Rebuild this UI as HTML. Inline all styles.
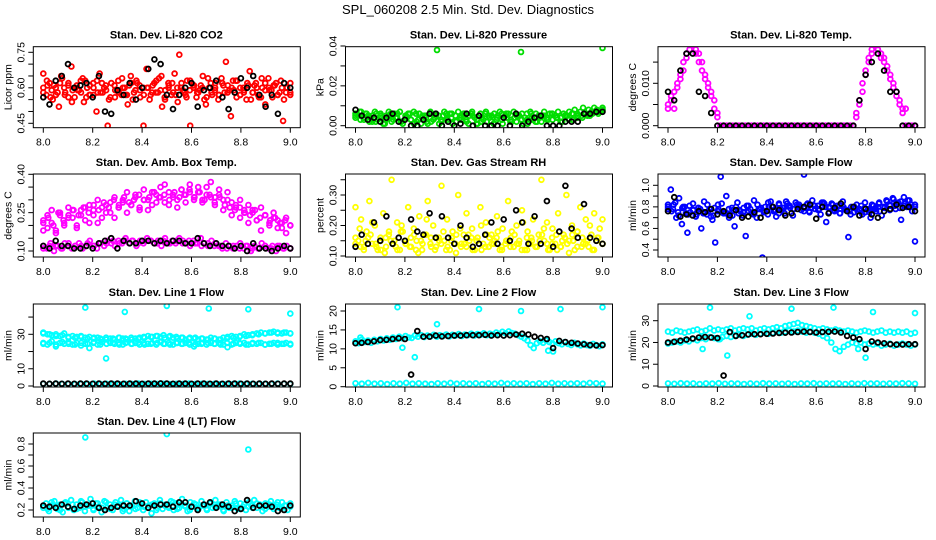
<!DOCTYPE html>
<html><head><meta charset="utf-8"><title>SPL_060208 Diagnostics</title>
<style>
html,body{margin:0;padding:0;background:#fff;}
svg{display:block;font-family:"Liberation Sans",Arial,sans-serif;}
</style></head>
<body>
<svg id="chart" width="936" height="540" viewBox="0 0 936 540" xmlns="http://www.w3.org/2000/svg">
<text x="468" y="14" text-anchor="middle" font-size="13">SPL_060208  2.5 Min. Std. Dev. Diagnostics</text>
</svg>
<script>
const xTicks = [8.0, 8.2, 8.4, 8.6, 8.8, 9.0];
const xTickLabels = ["8.0", "8.2", "8.4", "8.6", "8.8", "9.0"];

const co2Red = [0.66,0.57,0.62,0.55,0.60,0.52,0.64,0.58,0.61,0.69,0.56,0.59,0.63,0.54,0.60,0.57,0.62,0.50,0.66,0.58,0.61,0.55,0.79,0.59,0.63,0.57,0.60,0.53,0.65,0.58,0.62,0.56,0.60,0.68,0.55,0.61,0.58,0.64,0.52,0.59,0.62,0.57,0.66,0.54,0.60,0.58,0.63,0.44,0.61,0.56,0.59,0.65,0.53,0.60,0.57,0.62,0.55,0.64,0.58,0.61,0.48,0.59,0.63,0.57,0.60,0.55,0.67,0.58,0.62,0.56,0.60,0.53,0.64,0.59,0.61,0.57,0.63,0.55,0.60,0.58];
const co2Red2 = [0.60,0.63,0.56,0.61,0.58,0.65,0.57,0.62,0.54,0.60,0.59,0.64,0.56,0.61,0.57,0.63,0.58,0.60,0.44,0.62,0.56,0.59,0.64,0.57,0.61,0.55,0.63,0.59,0.44,0.60,0.57,0.62,0.58,0.65,0.55,0.60,0.62,0.57,0.74,0.59,0.56,0.63,0.60,0.58,0.61,0.55,0.64,0.58,0.60,0.57,0.62,0.71,0.59,0.63,0.56,0.60,0.58,0.62,0.55,0.61,0.57,0.64,0.59,0.60,0.56,0.62,0.58,0.46,0.60,0.57];
const co2Red3 = [0.58,0.61,0.59,0.57,0.62,0.60,0.56,0.59,0.61,0.58,0.63,0.57,0.60,0.58,0.62,0.59,0.56,0.61,0.58,0.60,0.57,0.62,0.59,0.61,0.57,0.60,0.58,0.63,0.59,0.56,0.61,0.58,0.60,0.62,0.57,0.59,0.61,0.58,0.60,0.56,0.62,0.59,0.57,0.61,0.58,0.60,0.63,0.57,0.59,0.61,0.58,0.60,0.56,0.62,0.59,0.61,0.57,0.60,0.58,0.62];
const co2Black = [0.56,0.53,0.63,0.65,0.70,0.60,0.61,0.62,0.56,0.65,0.50,0.49,0.59,0.57,0.62,0.55,0.60,0.68,0.72,0.70,0.57,0.51,0.57,0.60,0.62,0.52,0.59,0.60,0.63,0.56,0.51,0.58,0.64,0.60,0.65,0.57,0.52,0.57,0.49,0.62,0.60];

const pressGreen = [0.006,0.005,0.007,0.004,0.006,0.002,0.005,0.007,0.003,0.006,0.001,0.005,0.007,0.002,0.006,0.004,0.007,0.001,0.005,0.006,0.003,0.007,0.002,0.006,0.004,0.005,0.001,0.007,0.003,0.006,0.005,0.002,0.007,0.004,0.006,0.001,0.005,0.007,0.003,0.006,0.002,0.005,0.007,0.004,0.001,0.006,0.003,0.007,0.005,0.002,0.006,0.004,0.007,0.001,0.005,0.006,0.003,0.007,0.002,0.005,0.006,0.004,0.001,0.007,0.003,0.006,0.005,0.002,0.007,0.004,0.006,0.003,0.005,0.007,0.004,0.006,0.005,0.007,0.006,0.008,0.005,0.007,0.009,0.006,0.008,0.007,0.009,0.008,0.007,0.009];
const pressGreen2 = [0.004,0.007,0.003,0.005,0.002,0.006,0.004,0.001,0.005,0.003,0.006,0.002,0.004,0.006,0.001,0.003,0.005,0.002,0.006,0.004,0.001,0.005,0.003,0.006,0.002,0.004,0.006,0.001,0.005,0.003,0.002,0.006,0.004,0.001,0.005,0.003,0.006,0.002,0.004,0.005,0.001,0.003,0.006,0.002,0.004,0.005,0.003,0.006,0.004,0.002,0.005,0.003,0.006,0.004,0.005,0.006,0.005,0.007,0.006,0.008];
const pressGreen3 = [0.005,0.003,0.006,0.004,0.002,0.005,0.003,0.006,0.004,0.002,0.005,0.003,0.006,0.001,0.004,0.002,0.005,0.003,0.006,0.004,0.002,0.005,0.003,0.006,0.001,0.004,0.002,0.005,0.003,0.006,0.004,0.002,0.005,0.003,0.006,0.004,0.002,0.005,0.003,0.006,0.004,0.002,0.005,0.003,0.006,0.004,0.005,0.006,0.007,0.008];
const pressOutX = [8.33, 8.67, 9.0];
const pressOutY = [0.038, 0.037, 0.039];
const pressBlack = [0.008,0.005,0.003,0.004,0.002,0.004,0.006,0.002,0.003,0.0,0.0,0.003,0.006,0.006,0.0,0.002,0.0,0.001,0.006,0.0,0.005,0.0,0.0,0.0,0.004,0.0,0.006,0.0,0.002,0.004,0.005,0.0,0.0,0.0,0.002,0.002,0.002,0.006,0.006,0.007,0.007];

const tempMag = [0.005,0.007,0.004,0.009,0.011,0.013,0.016,0.018,0.020,0.018,0.017,0.015,0.012,0.010,0.008,0.006,0.003,
0,0,0,0,0,0,0,0,0,0,0,0,0,0,0,0,0,0,0,0,0,0,0,0,0,0,0,0,0,0,0,0,0,0,0,0,0,0,0,0,0,0,0,0,
0.003,0.006,0.010,0.013,0.016,0.018,0.020,0.019,0.017,0.016,0.014,0.012,0.010,0.008,0.006,0.004,0,0,0,0];
const tempMag2 = [0.004,0.006,0.008,0.010,0.012,0.015,0.017,0.019,0.019,0.017,0.015,0.013,0.011,0.009,0.007,0.004,0.002,
0,0,0,0,0,0,0,0,0,0,0,0,0,0,0,0,0,0,0,0,0,0,0,0,0,0,0,0,0,0,0,0,0,0,0,0,0,0,0,0,0,0,0,0,
0.002,0.005,0.008,0.012,0.015,0.017,0.019,0.018,0.016,0.015,0.013,0.011,0.009,0.007,0.005,0.003,0.004,0,0,0];
const tempBlack = [0.008,0.006,0.013,0.017,0.017,0.008,0.007,0.003,0,0,0,0,0,0,0,0,0,0,0,0,0,0,0,0,0,0,0,0,0,0,0,0.006,0.012,0.015,0.017,0.013,0.008,0.008,0,0,0];

const ambUpper = [0.22,0.19,0.26,0.18,0.24,0.21,0.27,0.23,0.20,0.26,0.22,0.28,0.24,0.21,0.27,0.25,0.29,0.23,0.27,0.30,0.25,0.28,0.32,0.27,0.30,0.26,0.33,0.29,0.31,0.36,0.28,0.32,0.30,0.34,0.29,0.33,0.31,0.35,0.30,0.32,0.37,0.31,0.34,0.30,0.33,0.29,0.27,0.30,0.25,0.28,0.26,0.22,0.27,0.24,0.21,0.25,0.22,0.19,0.23,0.20];
const ambUpper2 = [0.18,0.24,0.21,0.17,0.25,0.20,0.23,0.26,0.19,0.24,0.27,0.21,0.26,0.30,0.23,0.28,0.25,0.31,0.27,0.29,0.33,0.28,0.31,0.26,0.34,0.30,0.28,0.32,0.35,0.29,0.33,0.31,0.27,0.34,0.32,0.36,0.30,0.33,0.29,0.35,0.31,0.28,0.32,0.26,0.30,0.24,0.28,0.23,0.26,0.21,0.25,0.22,0.18,0.24,0.20,0.23,0.19,0.21,0.17,0.20];
const ambUpper3 = [0.21,0.23,0.20,0.25,0.22,0.24,0.26,0.24,0.27,0.25,0.28,0.26,0.29,0.27,0.30,0.28,0.31,0.29,0.30,0.32,0.30,0.31,0.33,0.31,0.32,0.30,0.33,0.31,0.32,0.34,0.31,0.33,0.30,0.32,0.29,0.31,0.28,0.27,0.26,0.27,0.25,0.24,0.26,0.23,0.24,0.22,0.23,0.21,0.22,0.20];
const ambLower = [0.12,0.11,0.13,0.10,0.12,0.11,0.13,0.12,0.11,0.12,0.13,0.11,0.12,0.14,0.12,0.11,0.13,0.12,0.14,0.13,0.12,0.14,0.13,0.15,0.13,0.14,0.12,0.14,0.13,0.15,0.14,0.13,0.14,0.12,0.15,0.13,0.14,0.13,0.15,0.14,0.13,0.12,0.14,0.13,0.15,0.13,0.12,0.14,0.13,0.12,0.11,0.13,0.12,0.11,0.12,0.13,0.11,0.12,0.10,0.12,0.11,0.13,0.12,0.11,0.12,0.10,0.12,0.11,0.12,0.11];
const ambLower2 = [0.11,0.12,0.12,0.11,0.13,0.12,0.12,0.13,0.12,0.13,0.13,0.14,0.13,0.14,0.14,0.13,0.14,0.14,0.13,0.14,0.13,0.14,0.13,0.14,0.13,0.12,0.13,0.12,0.12,0.11,0.12,0.11,0.12,0.11,0.11,0.12,0.11,0.12,0.11,0.11];
const ambBlack = [0.12,0.11,0.14,0.12,0.12,0.11,0.11,0.12,0.11,0.13,0.14,0.15,0.11,0.14,0.13,0.13,0.14,0.14,0.13,0.14,0.13,0.14,0.14,0.13,0.13,0.15,0.13,0.12,0.13,0.12,0.12,0.11,0.12,0.10,0.13,0.11,0.11,0.10,0.11,0.12,0.11];

const rhYellow = [0.26,0.15,0.22,0.13,0.18,0.28,0.14,0.20,0.12,0.16,0.24,0.13,0.17,0.35,0.15,0.21,0.12,0.18,0.14,0.26,0.13,0.19,0.15,0.23,0.12,0.17,0.28,0.14,0.20,0.13,0.16,0.33,0.15,0.22,0.12,0.18,0.14,0.30,0.13,0.17,0.24,0.15,0.19,0.12,0.16,0.26,0.14,0.21,0.13,0.17,0.15,0.23,0.12,0.19,0.14,0.28,0.16,0.13,0.20,0.15,0.25,0.12,0.18,0.14,0.22,0.13,0.17,0.35,0.15,0.21,0.12,0.19,0.14,0.24,0.13,0.17,0.30,0.15,0.20,0.12,0.18,0.26,0.14,0.22,0.13,0.17,0.24,0.15,0.19,0.22];
const rhYellow2 = [0.14,0.19,0.12,0.16,0.21,0.13,0.15,0.11,0.18,0.14,0.12,0.20,0.15,0.13,0.17,0.11,0.14,0.22,0.16,0.12,0.15,0.18,0.13,0.16,0.11,0.19,0.14,0.17,0.12,0.15,0.20,0.13,0.16,0.14,0.18,0.12,0.15,0.13,0.17,0.14,0.21,0.12,0.16,0.13,0.15,0.19,0.12,0.14,0.17,0.13,0.16,0.11,0.15,0.18,0.13,0.14,0.20,0.12,0.16,0.14];
const rhYellow3 = [0.16,0.13,0.15,0.17,0.14,0.12,0.16,0.15,0.13,0.18,0.14,0.16,0.12,0.15,0.17,0.13,0.16,0.14,0.12,0.15,0.17,0.14,0.13,0.16,0.15,0.12,0.17,0.14,0.16,0.13,0.15,0.18,0.14,0.12,0.16,0.15,0.13,0.17,0.14,0.16,0.12,0.15,0.14,0.17,0.13,0.16,0.15,0.12,0.16,0.14];
const rhBlack = [0.13,0.17,0.14,0.21,0.15,0.23,0.14,0.16,0.15,0.22,0.18,0.17,0.24,0.16,0.23,0.16,0.14,0.20,0.16,0.13,0.14,0.17,0.21,0.14,0.22,0.15,0.25,0.21,0.14,0.23,0.14,0.28,0.13,0.18,0.33,0.19,0.16,0.27,0.16,0.15,0.14];

const sampleBlue = [0.78,0.96,0.82,0.70,0.88,0.64,0.80,0.56,0.75,0.83,0.71,0.79,0.60,0.85,0.73,0.78,0.68,0.47,0.82,1.08,0.74,0.90,0.70,0.79,0.62,0.84,0.76,0.72,0.53,0.81,0.74,0.86,0.70,0.78,0.33,0.80,0.73,0.85,0.76,0.71,0.82,0.77,0.74,0.83,0.79,0.72,0.84,0.80,0.77,1.10,0.82,0.75,0.86,0.78,0.81,0.73,0.84,0.66,0.79,0.83,0.76,0.81,0.74,0.85,0.77,0.52,0.80,0.75,0.82,0.78,0.73,0.84,0.77,0.70,0.81,0.76,0.83,0.72,0.79,0.85,0.81,0.88,0.78,0.84,0.68,0.89,0.80,0.86,0.76,0.48];
const sampleBlue2 = [0.80,0.76,0.84,0.72,0.79,0.74,0.81,0.77,0.73,0.78,0.75,0.82,0.71,0.79,0.76,0.83,0.74,0.78,0.72,0.80,0.77,0.75,0.81,0.78,0.74,0.82,0.79,0.76,0.84,0.80,0.77,0.83,0.79,0.85,0.81,0.78,0.82,0.80,0.76,0.83,0.79,0.81,0.77,0.84,0.80,0.75,0.82,0.78,0.74,0.80,0.77,0.73,0.79,0.76,0.81,0.75,0.78,0.82,0.79,0.84,0.80,0.86,0.82,0.87,0.83,0.85,0.81,0.86,0.82,0.80];
const sampleBlue3 = [0.82,0.78,0.75,0.80,0.73,0.77,0.79,0.74,0.76,0.72,0.78,0.75,0.73,0.77,0.74,0.79,0.76,0.73,0.78,0.75,0.80,0.77,0.74,0.79,0.81,0.78,0.82,0.79,0.76,0.81,0.78,0.83,0.80,0.77,0.81,0.78,0.76,0.80,0.77,0.79,0.75,0.78,0.76,0.80,0.77,0.81,0.79,0.83,0.80,0.82];
const sampleBlack = [0.76,0.89,0.71,0.73,0.72,0.76,0.75,0.78,0.73,0.76,0.72,0.77,0.70,0.71,0.75,0.70,0.76,0.80,0.77,0.72,0.74,0.78,0.80,0.82,0.69,0.80,0.74,0.79,0.83,0.76,0.80,0.72,0.78,0.73,0.70,0.76,0.78,0.82,0.79,0.80,0.76];

const line1Upper = [31,30,29.5,30,29,30.5,28,29,28.5,29,28,28.5,27.5,28,27,28,27.5,27,28,27.5,27,28,27.5,28,28.5,29,28.5,29,28.5,28,28.5,28,27.5,28,27,28,27.5,27,27.5,27,28,27.5,27,28,28.5,29,28.5,29,30,29.5,30,30.5,31,30.5,31,31.5,31,30.5,31,30.5];
const line1Upper2 = [30.5,30,29,29.5,28.5,28,28.5,27.5,28,27.5,27,27.5,28,27.5,27,27.5,28,28.5,29,29.5,29,28.5,28,27.5,28,27.5,27,27.5,27,27.5,28,28.5,29,29.5,30,30.5,31,30.5,31,30.5];
const line1Lower = [25,24,26,23,25,24.5,25.5,24,25,23.5,24.5,22,25,24,25.5,16,25,24.5,25,24,25.5,24.5,25,24,25,24.5,25,24,25.5,24.5,25,24,25,24.5,25,24,23,24.5,25,24,25,24.5,25,24,22.5,24,25,24.5,25,24,25,24.5,25,24,24.5,25,24,24.5,25,24.5];
const line1Lower2 = [24.5,25,24,25.5,24.5,24,25,24.5,25.5,24,24.5,25,24,25,24.5,25,24,24.5,25,24.5,24,25,24.5,25,24,24.5,25,24.5,24,25,24.5,25,24,24.5,25,24,24.5,25,24.5,24];
const line1Low = [1.3,1.2,1.4,1.2,1.3,1.1,1.3,1.2,1.4,1.2,1.3,1.2,1.1,1.3,1.2,1.4,1.2,1.3,1.2,1.3,1.1,1.3,1.2,1.4,1.2,1.3,1.2,1.3,1.1,1.3,1.2,1.4,1.2,1.3,1.2,1.3,1.2,1.4,1.3,1.2];
const line1OutX = [8.17, 8.33, 8.5, 8.67, 8.83, 9.0];
const line1OutY = [45.5, 43, 46.5, 45, 44.5, 42];
const line1Black = [1.4,1.3,1.4,1.3,1.4,1.3,1.4,1.4,1.3,1.4,1.3,1.4,1.4,1.3,1.4,1.4,1.3,1.4,1.4,1.5,1.4,1.3,1.4,1.4,1.3,1.4,1.4,1.3,1.4,1.3,1.4,1.4,1.3,1.4,1.3,1.4,1.3,1.4,1.3,1.4,1.4];

const line2Band = [12,11.5,12.5,11.8,12.2,11.6,12.4,12,12.6,12.2,12.8,12.4,13,12.6,13.2,12.8,13.4,13,12.9,13.5,13.2,13.6,13.1,13.5,13.3,13.7,13.2,13.6,13.4,13.8,13.3,13.7,13.5,13.9,13.4,13.8,13.6,14,13.5,13.9,13.7,14.1,13.6,14,13.8,14.3,13.9,14.5,14.1,14.6,14.2,14,13.6,13.2,12.8,12.2,11,10.2,11.5,12,11.6,12.2,11.8,11.4,12,11.5,11.2,11.8,11.3,11,11.6,11.2,10.9,11.4,11,10.8,11.3,11,10.7,11.2];
const line2Low = [0.9,0.8,1.0,0.8,0.9,0.7,0.9,0.8,1.0,0.8,0.9,0.8,0.7,0.9,0.8,1.0,0.8,0.9,0.8,0.9,0.7,0.9,0.8,1.0,0.8,0.9,0.8,0.9,0.7,0.9,0.8,1.0,0.8,0.9,0.8,0.9,0.8,1.0,0.9,0.8];
const line2OutX = [8.02, 8.17, 8.19, 8.24, 8.33, 8.5, 8.67, 8.78, 8.8, 8.83, 9.0];
const line2OutY = [13, 21, 10.3, 7.8, 16.5, 20.5, 20, 9.5, 9.3, 20.5, 21];
const line2Black = [11.5,11.6,11.8,12,12.3,12.4,12.6,12.8,12.6,3.2,14.7,13.2,13.2,13.5,13.3,13.4,13.5,13.5,13.6,13.6,13.6,13.7,13.5,13.6,13.5,13.6,13.8,14,13.8,13.2,12.9,12.6,10.2,12.1,11.8,11.6,11.4,11.2,11,10.9,11];

const line3Upper = [25,24.5,25.5,25,24.5,25,25.5,26,25,25.5,26.5,25.5,26,25.5,26,26.5,25.5,26,26.5,26,26.5,25.5,26,26.5,26,26.5,27,26.5,27.5,28,28.5,29,28,27.5,27,26.5,26,26.5,26,25.5,26,25.5,25,25.5,25,24.5,25,25.5,25,24.5,25,25.5,24.5,25,24.5,25,24.5,25,24,24.5];
const line3Lower = [19.5,20,20.5,20,21,20.5,21.5,21,22,21.5,22.5,22,21.5,22.5,23,22.5,23,23.5,23,23.5,24,23.5,24,24.5,24,24.5,25,24.5,25,25.5,25,25.5,25,24.5,25,24.5,24,23,22,20,17,16,18,19,20,19.5,20,19,19.5,19,19.5,18.5,19,19.5,18.5,19,19.5,19,18.5,19];
const line3Low = [1.2,1.0,1.3,1.1,1.2,0.9,1.2,1.1,1.3,1.0,1.2,1.1,0.9,1.2,1.0,1.3,1.1,1.2,1.0,1.2,0.9,1.2,1.1,1.3,1.0,1.2,1.1,1.2,0.9,1.2,1.0,1.3,1.1,1.2,1.0,1.2,1.1,1.3,1.2,1.0];
const line3OutX = [8.14, 8.17, 8.21, 8.24, 8.33, 8.5, 8.67, 8.77, 8.8, 8.83, 9.0];
const line3OutY = [17, 36, 21.5, 14, 32, 35.5, 36, 17, 13, 34, 33.5];
const line3Black = [20,20.3,20.8,21.3,21.8,22.3,22.5,22.3,22,4.8,24.8,23,23.3,23.7,23.8,23.8,24,24.1,24.4,24.5,24.6,24.8,25,24.8,24.6,24.8,24.9,25,24.6,23,22.3,21.5,17,20.5,20,19.6,19.2,19,19,19.2,19.2];

const line4Band = [0.22,0.26,0.19,0.24,0.28,0.21,0.25,0.18,0.27,0.23,0.29,0.20,0.25,0.22,0.27,0.19,0.24,0.30,0.21,0.26,0.23,0.18,0.28,0.22,0.25,0.20,0.27,0.24,0.29,0.21,0.26,0.19,0.23,0.28,0.22,0.25,0.20,0.27,0.24,0.17,0.26,0.22,0.29,0.21,0.25,0.23,0.28,0.20,0.26,0.22,0.30,0.24,0.19,0.27,0.23,0.25,0.21,0.28,0.24,0.20,0.26,0.22,0.29,0.23,0.25,0.19,0.27,0.22,0.24,0.28,0.21,0.26,0.23,0.20,0.27,0.24,0.29,0.22,0.25,0.19,0.26,0.23,0.28,0.21,0.25,0.22,0.27,0.24,0.20,0.26];
const line4Band2 = [0.24,0.21,0.27,0.23,0.20,0.26,0.22,0.25,0.21,0.28,0.23,0.24,0.20,0.26,0.22,0.27,0.21,0.25,0.23,0.19,0.26,0.24,0.21,0.27,0.23,0.22,0.25,0.20,0.26,0.24,0.22,0.27,0.21,0.25,0.23,0.20,0.26,0.22,0.24,0.21,0.27,0.23,0.25,0.20,0.24,0.22,0.26,0.21,0.25,0.23,0.22,0.26,0.24,0.21,0.25,0.23,0.27,0.22,0.24,0.23];
const line4OutX = [8.17, 8.5, 8.83];
const line4OutY = [0.86, 0.89, 0.75];
const line4Black = [0.24,0.23,0.22,0.25,0.23,0.21,0.24,0.25,0.26,0.22,0.20,0.22,0.23,0.24,0.24,0.28,0.26,0.22,0.24,0.25,0.25,0.23,0.27,0.27,0.23,0.20,0.25,0.27,0.22,0.25,0.23,0.19,0.21,0.29,0.22,0.24,0.24,0.23,0.19,0.20,0.24];

const NS = "http://www.w3.org/2000/svg";
const svg = document.getElementById("chart");
function mk(tag, attrs, parent) {
  const e = document.createElementNS(NS, tag);
  for (const k in attrs) e.setAttribute(k, attrs[k]);
  (parent || svg).appendChild(e);
  return e;
}
function seq(vals) { return vals.map((v, i) => 8 + i / (vals.length - 1)); }

const RED = "#ff0000", GRN = "#00dd00", MAG = "#ff00ff", YEL = "#ffff00", BLU = "#0000ff", CYA = "#00ffff", BLK = "#000000";
const colX = [43.3, 355.5, 668];
const rowBox = [[46.7, 127.7], [174, 257], [304, 387], [433, 517]];

const panels = [
  {name:"co2", title:"Stan. Dev. Li-820 CO2", ylab:"Licor ppm", c:0, r:0, yA:[0.45,123.3], yB:[0.75,52.3], ticks:[0.45,0.5,0.55,0.6,0.65,0.7,0.75], labels:[[0.45,"0.45"],[0.6,"0.60"],[0.75,"0.75"]],
   series:[[null,co2Red,RED],[null,co2Red2,RED],[null,co2Red3,RED],[null,co2Black,BLK]]},
  {name:"pressure", title:"Stan. Dev. Li-820 Pressure", ylab:"kPa", c:1, r:0, yA:[0,125.7], yB:[0.04,46], ticks:[0,0.01,0.02,0.03,0.04], labels:[[0,"0.00"],[0.02,"0.02"],[0.04,"0.04"]],
   series:[[null,pressGreen,GRN],[null,pressGreen2,GRN],[null,pressGreen3,GRN],[pressOutX,pressOutY,GRN],[null,pressBlack,BLK]]},
  {name:"temp", title:"Stan. Dev. Li-820 Temp.", ylab:"degrees C", c:2, r:0, yA:[0,125.7], yB:[0.010,83.3], ticks:[0,0.005,0.010,0.015], labels:[[0,"0.000"],[0.010,"0.010"]],
   series:[[null,tempMag,MAG],[null,tempMag2,MAG],[null,tempBlack,BLK]]},
  {name:"amb-box-temp", title:"Stan. Dev. Amb. Box Temp.", ylab:"degrees C", c:0, r:1, yA:[0.10,251], yB:[0.40,174.3], ticks:[0.1,0.15,0.2,0.25,0.3,0.35,0.4], labels:[[0.1,"0.10"],[0.25,"0.25"],[0.4,"0.40"]],
   series:[[null,ambUpper,MAG],[null,ambUpper2,MAG],[null,ambUpper3,MAG],[null,ambLower,MAG],[null,ambLower2,MAG],[null,ambBlack,BLK]]},
  {name:"gas-rh", title:"Stan. Dev. Gas Stream RH", ylab:"percent", c:1, r:1, yA:[0.10,256], yB:[0.30,195], ticks:[0.1,0.15,0.2,0.25,0.3,0.35], labels:[[0.1,"0.10"],[0.2,"0.20"],[0.3,"0.30"]],
   series:[[null,rhYellow,YEL],[null,rhYellow2,YEL],[null,rhYellow3,YEL],[null,rhBlack,BLK]]},
  {name:"sample-flow", title:"Stan. Dev. Sample Flow", ylab:"ml/min", c:2, r:1, yA:[0.4,250], yB:[1.0,185.3], ticks:[0.4,0.5,0.6,0.7,0.8,0.9,1.0], labels:[[0.4,"0.4"],[0.6,"0.6"],[0.8,"0.8"],[1.0,"1.0"]],
   series:[[null,sampleBlue,BLU],[null,sampleBlue2,BLU],[null,sampleBlue3,BLU],[null,sampleBlack,BLK]]},
  {name:"line1-flow", title:"Stan. Dev. Line 1 Flow", ylab:"ml/min", c:0, r:2, yA:[0,386], yB:[30,334.3], ticks:[0,10,20,30,40], labels:[[0,"0"],[10,"10"],[30,"30"]],
   series:[[null,line1Upper,CYA],[null,line1Upper2,CYA],[null,line1Lower,CYA],[null,line1Lower2,CYA],[null,line1Low,CYA],[line1OutX,line1OutY,CYA],[null,line1Black,BLK]]},
  {name:"line2-flow", title:"Stan. Dev. Line 2 Flow", ylab:"ml/min", c:1, r:2, yA:[0,386.7], yB:[20,311], ticks:[0,5,10,15,20], labels:[[0,"0"],[5,"5"],[10,"10"],[15,"15"],[20,"20"]],
   series:[[null,line2Band,CYA],[null,line2Low,CYA],[line2OutX,line2OutY,CYA],[null,line2Black,BLK]]},
  {name:"line3-flow", title:"Stan. Dev. Line 3 Flow", ylab:"ml/min", c:2, r:2, yA:[0,386], yB:[30,320.7], ticks:[0,10,20,30], labels:[[0,"0"],[10,"10"],[20,"20"],[30,"30"]],
   series:[[null,line3Upper,CYA],[null,line3Lower,CYA],[null,line3Low,CYA],[line3OutX,line3OutY,CYA],[null,line3Black,BLK]]},
  {name:"line4-flow", title:"Stan. Dev. Line 4 (LT) Flow", ylab:"ml/min", c:0, r:3, yA:[0.2,510], yB:[0.8,444], ticks:[0.2,0.3,0.4,0.5,0.6,0.7,0.8], labels:[[0.2,"0.2"],[0.4,"0.4"],[0.6,"0.6"],[0.8,"0.8"]],
   series:[[null,line4Band,CYA],[null,line4Band2,CYA],[line4OutX,line4OutY,CYA],[null,line4Black,BLK]]}
];

const defs = mk("defs", {});
panels.forEach((p, pi) => {
  const x0 = colX[p.c];
  const [top, bot] = rowBox[p.r];
  const left = x0 - 10, right = x0 + 257;
  const xs = v => x0 + (v - 8) * 247;
  const ys = v => p.yA[1] + (v - p.yA[0]) * (p.yB[1] - p.yA[1]) / (p.yB[0] - p.yA[0]);
  const g = mk("g", {});
  
  

  const t = mk("text", {x: x0 + 123, y: top - 8, "text-anchor": "middle", "font-size": "11", "font-weight": "bold"}, g);
  t.textContent = p.title;
  
  

  const cp = mk("clipPath", {id: "clip" + pi}, defs);
  mk("rect", {x: left, y: top, width: right - left, height: bot - top}, cp);

  const pts = mk("g", {"clip-path": "url(#clip" + pi + ")", fill: "none", "stroke-width": "1.8"}, g);
  
  
  p.series.forEach(s => {
    const vals = s[1];
    const xv = s[0] || seq(vals);
    vals.forEach((v, i) => {
      const c = mk("circle", {cx: xs(xv[i]).toFixed(1), cy: ys(v).toFixed(1), r: "2.4", stroke: s[2]}, pts);
      
      
    });
  });

  const box = mk("rect", {x: left, y: top, width: right - left, height: bot - top, fill: "none", stroke: "#000", "stroke-width": "1"}, g);
  
  

  const xa = mk("g", {}, g);
  
  
  xTicks.forEach((v, i) => {
    mk("line", {x1: xs(v), x2: xs(v), y1: bot, y2: bot + 5, stroke: "#000"}, xa);
    const tl = mk("text", {x: xs(v), y: bot + 18, "text-anchor": "middle", "font-size": "10.5"}, xa);
    tl.textContent = xTickLabels[i];
  });

  const ya = mk("g", {}, g);
  
  
  p.ticks.forEach(v => {
    const y = ys(v);
    if (y < top - 1 || y > bot + 1) return;
    mk("line", {x1: left - 5, x2: left, y1: y, y2: y, stroke: "#000"}, ya);
  });
  p.labels.forEach(l => {
    const y = ys(l[0]);
    const tl = mk("text", {x: 0, y: 0, "text-anchor": "middle", "font-size": "10.5", transform: "translate(" + (left - 9) + "," + y + ") rotate(-90)"}, ya);
    tl.textContent = l[1];
  });
  const yl = mk("text", {x: 0, y: 0, "text-anchor": "middle", "font-size": "10.5", transform: "translate(" + (left - 22) + "," + ((top + bot) / 2) + ") rotate(-90)"}, g);
  yl.textContent = p.ylab;
  
  
});
</script>
</body></html>
